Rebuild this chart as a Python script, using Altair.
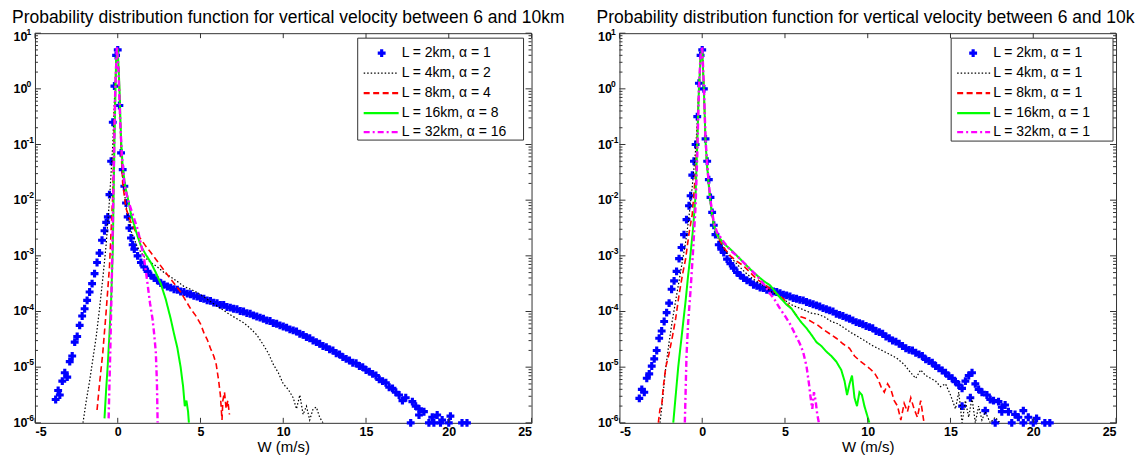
import altair as alt
import pandas as pd

# ---------------- text ----------------
TITLE = "Probability distribution function for vertical velocity between 6 and 10km"
X_TITLE = "W (m/s)"
SERIES = ["L2", "L4", "L8", "L16", "L32"]
LABELS_A = ["L = 2km, α = 1", "L = 4km, α = 2", "L = 8km, α = 4", "L = 16km, α = 8", "L = 32km, α = 16"]
LABELS_B = ["L = 2km, α = 1", "L = 4km, α = 1", "L = 8km, α = 1", "L = 16km, α = 1", "L = 32km, α = 1"]
X_TICKS = [-5, 0, 5, 10, 15, 20, 25]
Y_MAJOR = [1e-6, 1e-5, 1e-4, 1e-3, 1e-2, 1e-1, 1.0, 10.0]
Y_BASE = ["10"] * 8
Y_EXPONENT = ["-6", "-5", "-4", "-3", "-2", "-1", "0", "1"]
Y_MINOR = [k * d for d in Y_MAJOR[:-1] for k in range(2, 10)]

# ---------------- data: (W in m/s, log10 of pdf) ----------------
# left panel
A_L2 = [(-3.75,-5.58),(-3.6,-5.42),(-3.5,-5.5),(-3.35,-5.25),(-3.2,-5.1),(-3.05,-5.18),(-2.9,-4.9),(-2.75,-4.8),
        (-2.6,-4.55),(-2.45,-4.45),(-2.3,-4.25),(-2.15,-4.08),(-2.0,-3.95),(-1.85,-3.8),(-1.7,-3.65),(-1.55,-3.5),
        (-1.4,-3.32),(-1.25,-3.12),(-1.1,-2.95),(-0.95,-2.72),(-0.8,-2.55),(-0.7,-2.4),(-0.6,-2.3),(-0.5,-1.9),
        (-0.4,-1.3),(-0.3,-0.6),(-0.2,0.05),(-0.1,0.6),(0.0,0.7),(0.1,-0.3),(0.2,-1.15),(0.3,-1.45),(0.4,-1.75),
        (0.5,-2.05),(0.6,-2.3),(0.7,-2.5),(0.8,-2.68),(0.9,-2.8),(1.0,-2.88),(1.2,-3.0),(1.4,-3.12),(1.6,-3.2),
        (1.8,-3.28),(2.0,-3.35),(2.2,-3.4),(2.4,-3.44),(2.6,-3.49),(2.8,-3.52),(3.0,-3.55),(3.2,-3.57),(3.4,-3.6),
        (3.6,-3.61),(3.8,-3.64),(4.0,-3.65),(4.2,-3.68),(4.4,-3.69),(4.6,-3.72),(4.8,-3.73),(5.0,-3.76),(5.2,-3.77),
        (5.4,-3.8),(5.6,-3.81),(5.8,-3.84),(6.0,-3.85),(6.2,-3.88),(6.4,-3.88),(6.6,-3.92),(6.8,-3.93),(7.0,-3.95),
        (7.2,-3.96),(7.4,-3.99),(7.6,-4.0),(7.8,-4.03),(8.0,-4.04),(8.2,-4.07),(8.4,-4.09),(8.6,-4.11),(8.8,-4.13),
        (9.0,-4.16),(9.2,-4.17),(9.4,-4.21),(9.6,-4.22),(9.8,-4.25),(10.0,-4.27),(10.2,-4.29),(10.4,-4.32),
        (10.6,-4.34),(10.8,-4.36),(11.0,-4.4),(11.2,-4.42),(11.4,-4.46),(11.6,-4.48),(11.8,-4.52),(12.0,-4.55),
        (12.2,-4.58),(12.4,-4.62),(12.6,-4.64),(12.8,-4.68),(13.0,-4.7),(13.2,-4.75),(13.4,-4.77),(13.6,-4.82),
        (13.8,-4.85),(14.0,-4.88),(14.2,-4.92),(14.4,-4.93),(14.6,-4.98),(14.8,-5.0),(15.0,-5.05),(15.2,-5.08),
        (15.4,-5.12),(15.6,-5.15),(15.8,-5.22),(16.0,-5.25),(16.2,-5.28),(16.4,-5.36),(16.6,-5.38),(16.8,-5.45),
        (17.0,-5.5),(17.2,-5.6),(17.4,-5.55),(17.7,-6.0),(17.8,-5.62),(18.0,-5.7),(18.2,-5.75),(18.2,-5.86),
        (18.5,-5.8),(18.8,-6.0),(19.0,-5.9),(19.1,-6.0),(19.3,-5.86),(19.5,-6.0),(19.6,-5.95),(20.0,-6.0),
        (20.1,-5.88),(20.8,-6.0),(21.1,-6.0)]
A_L4 = [(-2.1,-6.0),(-1.9,-5.6),(-1.7,-5.25),(-1.5,-4.85),(-1.3,-4.45),(-1.1,-3.95),(-0.9,-3.4),(-0.7,-2.8),
        (-0.5,-2.0),(-0.3,-1.0),(-0.2,-0.2),(-0.1,0.5),(0.0,0.72),(0.1,0.0),(0.2,-1.0),(0.3,-1.6),(0.5,-2.1),
        (0.8,-2.55),(1.2,-2.85),(1.6,-3.02),(2.0,-3.12),(2.4,-3.2),(2.8,-3.3),(3.2,-3.38),(3.6,-3.46),(4.0,-3.55),
        (4.4,-3.6),(4.8,-3.66),(5.2,-3.74),(5.6,-3.82),(6.0,-3.9),(6.4,-3.98),(6.8,-4.06),(7.2,-4.13),(7.6,-4.2),
        (8.0,-4.3),(8.4,-4.42),(8.8,-4.6),(9.1,-4.75),(9.4,-4.95),(9.7,-5.1),(10.0,-5.3),(10.3,-5.4),(10.6,-5.55),
        (10.8,-5.75),(11.0,-5.5),(11.2,-5.85),(11.4,-5.7),(11.6,-5.95),(11.8,-5.75),(12.0,-5.72),(12.2,-5.9),
        (12.4,-6.0)]
A_L8 = [(-1.25,-5.77),(-1.1,-5.3),(-0.9,-4.73),(-0.7,-4.0),(-0.5,-3.2),(-0.3,-1.9),(-0.2,-0.5),(-0.1,0.5),
        (0.0,0.72),(0.1,0.0),(0.2,-1.1),(0.3,-1.7),(0.5,-2.15),(0.8,-2.4),(1.1,-2.58),(1.4,-2.7),(1.7,-2.83),
        (2.0,-2.94),(2.3,-3.06),(2.6,-3.18),(2.9,-3.3),(3.2,-3.42),(3.5,-3.53),(3.8,-3.65),(4.1,-3.8),(4.4,-3.95),
        (4.7,-4.07),(5.0,-4.22),(5.2,-4.38),(5.4,-4.5),(5.6,-4.66),(5.8,-4.8),(5.95,-4.95),(6.1,-5.25),(6.2,-5.5),
        (6.3,-5.95),(6.35,-5.6),(6.45,-5.45),(6.55,-5.75),(6.65,-5.6),(6.75,-5.85)]
A_L16 = [(-0.8,-5.92),(-0.7,-5.4),(-0.6,-4.95),(-0.5,-4.4),(-0.4,-3.8),(-0.3,-2.9),(-0.2,-1.0),(-0.1,0.5),
         (0.0,0.72),(0.1,0.05),(0.2,-0.9),(0.3,-1.4),(0.45,-1.75),(0.6,-1.95),(0.8,-2.25),(1.0,-2.45),(1.2,-2.65),
         (1.4,-2.82),(1.7,-2.98),(2.0,-3.12),(2.3,-3.3),(2.6,-3.5),(2.9,-3.78),(3.2,-4.13),(3.4,-4.4),(3.6,-4.65),
         (3.8,-5.0),(3.95,-5.35),(4.05,-5.7),(4.15,-5.6),(4.25,-5.8),(4.3,-6.0)]
A_L32 = [(-0.55,-5.92),(-0.5,-5.3),(-0.45,-4.7),(-0.35,-3.3),(-0.25,-1.6),(-0.15,0.0),(-0.05,0.76),(0.05,0.3),
         (0.15,-0.6),(0.25,-1.2),(0.4,-1.72),(0.6,-1.98),(0.8,-2.16),(1.0,-2.34),(1.2,-2.52),(1.4,-2.78),
         (1.6,-3.06),(1.8,-3.5),(1.95,-3.85),(2.1,-4.13),(2.2,-4.4),(2.3,-4.73),(2.37,-5.3),(2.41,-6.0)]

# right panel
B_L2 = [(-3.8,-5.56),(-3.65,-5.4),(-3.5,-5.45),(-3.35,-5.2),(-3.2,-5.12),(-3.05,-4.98),(-2.9,-4.85),(-2.75,-4.7),
        (-2.6,-4.48),(-2.45,-4.35),(-2.3,-4.18),(-2.15,-4.02),(-2.0,-3.85),(-1.85,-3.6),(-1.7,-3.45),(-1.55,-3.28),
        (-1.4,-3.05),(-1.25,-2.85),(-1.1,-2.62),(-0.95,-2.35),(-0.8,-2.1),(-0.7,-1.92),(-0.6,-1.55),(-0.5,-1.3),
        (-0.4,-1.0),(-0.3,-0.5),(-0.2,0.1),(-0.1,0.6),(0.0,0.7),(0.1,0.0),(0.2,-0.9),(0.3,-1.3),(0.4,-1.63),
        (0.5,-1.95),(0.6,-2.22),(0.7,-2.45),(0.8,-2.62),(1.0,-2.8),(1.15,-2.88),(1.3,-2.94),(1.5,-3.06),(1.7,-3.14),
        (1.9,-3.22),(2.1,-3.3),(2.3,-3.35),(2.5,-3.4),(2.7,-3.44),(2.9,-3.47),(3.1,-3.52),(3.3,-3.54),(3.5,-3.57),
        (3.7,-3.58),(3.9,-3.61),(4.1,-3.62),(4.3,-3.64),(4.5,-3.65),(4.7,-3.67),(4.9,-3.7),(5.1,-3.71),(5.3,-3.73),
        (5.5,-3.76),(5.7,-3.77),(5.9,-3.79),(6.1,-3.8),(6.3,-3.83),(6.5,-3.85),(6.7,-3.87),(6.9,-3.89),(7.1,-3.91),
        (7.3,-3.94),(7.5,-3.96),(7.7,-3.98),(7.9,-4.0),(8.1,-4.04),(8.3,-4.06),(8.5,-4.08),(8.7,-4.11),(8.9,-4.13),
        (9.1,-4.16),(9.3,-4.19),(9.5,-4.21),(9.7,-4.23),(9.9,-4.26),(10.1,-4.28),(10.3,-4.3),(10.5,-4.35),
        (10.7,-4.37),(10.9,-4.4),(11.1,-4.45),(11.3,-4.48),(11.5,-4.52),(11.7,-4.54),(11.9,-4.58),(12.1,-4.62),
        (12.3,-4.66),(12.5,-4.69),(12.7,-4.7),(12.9,-4.74),(13.1,-4.77),(13.3,-4.8),(13.5,-4.86),(13.7,-4.89),
        (13.9,-4.92),(14.1,-4.98),(14.3,-5.02),(14.5,-5.06),(14.7,-5.1),(14.9,-5.16),(15.1,-5.2),(15.3,-5.26),
        (15.5,-5.32),(15.7,-5.38),(15.7,-5.7),(15.9,-5.25),(16.1,-5.15),(16.2,-5.55),(16.3,-5.1),(16.5,-5.3),
        (16.7,-5.4),(16.9,-5.45),(17.1,-5.78),(17.2,-5.5),(17.4,-5.58),(17.6,-5.6),(17.7,-6.0),(17.9,-5.62),
        (18.1,-5.72),(18.1,-5.8),(18.3,-5.68),(18.5,-5.8),(18.7,-6.0),(18.9,-5.85),(19.1,-5.9),(19.4,-6.0),
        (19.4,-5.78),(19.7,-5.9),(20.0,-6.0),(20.2,-5.92),(20.7,-6.0),(21.0,-6.0)]
B_L4 = [(-2.55,-6.0),(-2.4,-5.6),(-2.2,-5.0),(-2.0,-4.55),(-1.8,-4.15),(-1.6,-3.8),(-1.4,-3.45),(-1.2,-3.1),
        (-1.0,-2.75),(-0.8,-2.3),(-0.6,-1.75),(-0.4,-1.1),(-0.3,-0.6),(-0.2,0.0),(-0.1,0.55),(0.0,0.72),(0.1,0.0),
        (0.2,-0.95),(0.3,-1.35),(0.4,-1.7),(0.5,-2.0),(0.7,-2.45),(1.0,-2.72),(1.4,-2.92),(1.8,-3.05),(2.2,-3.18),
        (2.6,-3.3),(3.0,-3.4),(3.4,-3.48),(3.8,-3.56),(4.2,-3.65),(4.6,-3.72),(5.0,-3.8),(5.4,-3.88),(5.8,-3.93),
        (6.2,-3.98),(6.6,-4.03),(7.0,-4.05),(7.4,-4.1),(7.8,-4.18),(8.2,-4.22),(8.6,-4.3),(9.0,-4.38),(9.4,-4.45),
        (9.8,-4.52),(10.2,-4.6),(10.6,-4.66),(11.0,-4.72),(11.4,-4.78),(11.8,-4.85),(12.2,-4.95),(12.6,-5.1),
        (12.9,-5.2),(13.2,-5.05),(13.5,-5.15),(13.8,-5.2),(14.1,-5.25),(14.4,-5.35),(14.7,-5.3),(15.0,-5.5),
        (15.3,-5.75),(15.5,-5.45),(15.7,-6.0),(15.9,-5.6),(16.1,-5.9),(16.3,-5.55),(16.5,-6.0),(16.7,-5.7),
        (16.9,-5.95),(17.1,-5.8),(17.4,-6.0),(17.7,-5.9),(18.0,-6.0)]
B_L8 = [(-2.65,-6.0),(-2.55,-5.75),(-2.45,-5.7),(-2.35,-5.35),(-2.2,-5.0),(-2.0,-4.75),(-1.8,-4.45),(-1.6,-4.12),
        (-1.4,-3.7),(-1.2,-3.35),(-1.0,-3.05),(-0.8,-2.6),(-0.6,-2.25),(-0.4,-1.5),(-0.3,-0.8),(-0.2,0.0),
        (-0.1,0.55),(0.0,0.72),(0.1,0.0),(0.2,-0.95),(0.3,-1.4),(0.4,-1.75),(0.5,-2.05),(0.7,-2.45),(0.9,-2.64),
        (1.3,-2.85),(1.7,-3.0),(2.1,-3.1),(2.5,-3.18),(2.9,-3.3),(3.3,-3.42),(3.7,-3.5),(4.1,-3.59),(4.5,-3.68),
        (4.9,-3.77),(5.3,-3.92),(5.7,-4.07),(6.0,-4.1),(6.3,-4.13),(6.7,-4.2),(7.0,-4.25),(7.3,-4.32),(7.7,-4.4),
        (8.1,-4.48),(8.5,-4.58),(8.9,-4.66),(9.2,-4.8),(9.5,-4.88),(9.8,-4.95),(10.1,-5.02),(10.4,-5.1),
        (10.6,-5.2),(10.8,-5.35),(11.0,-5.45),(11.2,-5.3),(11.4,-5.4),(11.6,-5.6),(11.8,-5.7),(12.0,-5.95),
        (12.2,-5.65),(12.4,-5.8),(12.6,-5.55),(12.8,-5.75),(13.0,-5.9),(13.2,-5.6),(13.4,-6.0)]
B_L16 = [(-1.75,-6.0),(-1.6,-5.5),(-1.45,-5.0),(-1.3,-4.6),(-1.15,-4.2),(-1.0,-3.8),(-0.85,-3.35),(-0.7,-2.95),
         (-0.55,-2.5),(-0.4,-1.9),(-0.3,-1.0),(-0.2,0.0),(-0.1,0.55),(0.0,0.72),(0.1,0.0),(0.2,-0.95),(0.3,-1.4),
         (0.4,-1.75),(0.5,-2.05),(0.7,-2.45),(0.9,-2.62),(1.3,-2.78),(1.7,-2.88),(2.1,-3.0),(2.5,-3.12),
         (2.9,-3.24),(3.3,-3.35),(3.7,-3.45),(4.1,-3.53),(4.5,-3.68),(4.8,-3.78),(5.1,-3.88),(5.4,-3.95),
         (5.7,-4.08),(6.0,-4.2),(6.3,-4.3),(6.6,-4.42),(6.9,-4.55),(7.2,-4.62),(7.5,-4.72),(7.8,-4.8),(8.1,-4.9),
         (8.4,-5.05),(8.6,-5.25),(8.75,-5.5),(8.9,-5.3),(9.05,-5.15),(9.2,-5.55),(9.35,-5.7),(9.5,-5.45),
         (9.65,-5.5),(9.8,-5.7),(9.95,-5.85),(10.1,-6.0)]
B_L32 = [(-1.05,-6.0),(-1.0,-5.4),(-0.95,-4.8),(-0.85,-4.2),(-0.7,-3.6),(-0.55,-2.9),(-0.4,-2.1),(-0.3,-1.2),
         (-0.2,0.0),(-0.1,0.6),(0.0,0.76),(0.1,0.05),(0.2,-0.9),(0.3,-1.35),(0.4,-1.7),(0.5,-2.0),(0.7,-2.4),
         (0.9,-2.58),(1.3,-2.75),(1.7,-2.9),(2.1,-3.0),(2.5,-3.12),(2.9,-3.24),(3.3,-3.36),(3.7,-3.5),(4.1,-3.68),
         (4.4,-3.8),(4.7,-3.95),(5.0,-4.08),(5.3,-4.22),(5.6,-4.4),(5.9,-4.58),(6.1,-4.73),(6.3,-4.98),
         (6.45,-5.3),(6.55,-5.55),(6.65,-5.75),(6.75,-5.45),(6.85,-5.6),(6.95,-5.85),(7.05,-6.0)]

# ---------------- styles / layout ----------------
FONT = "Liberation Sans"
W_PLOT, H_PLOT = 497, 390
FRAME = "#333333"
BLUE = "#0000ff"
MARKER_SIZE = 62
LINE_SERIES = SERIES[1:]
LINE_COLORS = ["#000000", "#ff0000", "#00ff00", "#ff00ff"]
LINE_DASH = [[1.5, 2], [6, 3.5], [1, 0], [6, 3, 2, 3]]
LINE_WIDTH = [1.2, 2.4, 2.2, 2.4]
ROWS = [20, 40, 60, 80, 99]
LEG_A = dict(box=(323, 489, 5, 107), sym=(329, 364), cross=347, text=367)
LEG_B = dict(box=(332, 494, 5, 108), sym=(338, 371), cross=354, text=374)
Y_TICK_MAJOR, Y_TICK_MINOR, X_TICK_LEN = 6, 3, 5
TITLE_X, TITLE_Y, TITLE_SIZE = -23, -10, 17.5
YLAB_X, YEXP_X, YEXP_DY = -21.5, -8.5, -5
TOP_LABEL_SHIFT = 4   # the top "10^1" label sits a little below its tick, as in the reference

XS = alt.Scale(domain=[-5, 25], nice=False, zero=False)
YS = alt.Scale(type="log", domain=[1e-6, 10], nice=False)


def frame(pairs, name):
    return pd.DataFrame({"W": [p[0] for p in pairs], "p": [10 ** p[1] for p in pairs], "s": name})


def panel(blue, lines, labels, leg, title_limit=None):
    x_bottom = alt.Axis(values=X_TICKS, title=X_TITLE, labelExpr="'' + datum.value", labelFont=FONT,
                        labelFontWeight="bold", labelFontSize=12.5, labelColor="black", labelPadding=3,
                        ticks=False, domain=False, grid=False, titleFont=FONT,
                        titleFontSize=15, titleFontWeight="normal", titleColor="black", titlePadding=1)

    pts = alt.Chart(frame(blue, SERIES[0])).mark_point(shape="cross", filled=True, size=MARKER_SIZE,
                                                       color=BLUE, opacity=1).encode(
        x=alt.X("W:Q", scale=XS, axis=None),
        y=alt.Y("p:Q", scale=YS, axis=None),
    )
    df = pd.concat([frame(c, n) for c, n in zip(lines, LINE_SERIES)], ignore_index=True)
    ln = alt.Chart(df).mark_line(clip=True).encode(
        x=alt.X("W:Q", scale=XS, axis=x_bottom),
        y=alt.Y("p:Q", scale=YS, axis=None),
        color=alt.Color("s:N", scale=alt.Scale(domain=LINE_SERIES, range=LINE_COLORS), legend=None),
        strokeDash=alt.StrokeDash("s:N", scale=alt.Scale(domain=LINE_SERIES, range=LINE_DASH), legend=None),
        strokeWidth=alt.StrokeWidth("s:N", scale=alt.Scale(domain=LINE_SERIES, range=LINE_WIDTH), legend=None),
        detail="s:N",
    )

    # y tick labels "10" with a raised exponent, placed through the log scale
    ylab = pd.DataFrame({"v": Y_MAJOR, "base": Y_BASE, "exp": Y_EXPONENT})
    ylabels = []
    for flt, shift in (("datum.v < 5", 0), ("datum.v >= 5", TOP_LABEL_SHIFT)):
        ylabels.append(alt.Chart(ylab).transform_filter(flt).mark_text(
            align="left", baseline="middle", font=FONT, fontSize=12.5, fontWeight="bold", color="black",
            dy=shift).encode(y=alt.Y("v:Q", scale=YS, axis=None), x=alt.value(YLAB_X), text="base:N"))
        ylabels.append(alt.Chart(ylab).transform_filter(flt).mark_text(
            align="left", baseline="middle", font=FONT, fontSize=8.5, fontWeight="bold", color="black",
            dy=YEXP_DY + shift).encode(y=alt.Y("v:Q", scale=YS, axis=None), x=alt.value(YEXP_X), text="exp:N"))

    # inward tick marks on all four sides, placed through the scales
    ymaj = pd.DataFrame({"v": Y_MAJOR})
    ymin = pd.DataFrame({"v": Y_MINOR})
    xmaj = pd.DataFrame({"v": X_TICKS})
    tick = dict(color=FRAME, strokeWidth=1)
    ticks = []
    for d, ln_ in ((ymaj, Y_TICK_MAJOR), (ymin, Y_TICK_MINOR)):
        ticks.append(alt.Chart(d).mark_rule(**tick).encode(
            y=alt.Y("v:Q", scale=YS, axis=None), x=alt.value(0), x2=alt.value(ln_)))
        ticks.append(alt.Chart(d).mark_rule(**tick).encode(
            y=alt.Y("v:Q", scale=YS, axis=None), x=alt.value(W_PLOT), x2=alt.value(W_PLOT - ln_)))
    ticks.append(alt.Chart(xmaj).mark_rule(**tick).encode(
        x=alt.X("v:Q", scale=XS, axis=None), y=alt.value(H_PLOT), y2=alt.value(H_PLOT - X_TICK_LEN)))
    ticks.append(alt.Chart(xmaj).mark_rule(**tick).encode(
        x=alt.X("v:Q", scale=XS, axis=None), y=alt.value(0), y2=alt.value(X_TICK_LEN)))

    one = pd.DataFrame({"k": [0]})
    bx1, bx2, by1, by2 = leg["box"]
    layers = [pts, ln] + ylabels + ticks
    layers.append(alt.Chart(one).mark_rect(fill="white", stroke=FRAME, strokeWidth=1).encode(
        x=alt.value(bx1), x2=alt.value(bx2), y=alt.value(by1), y2=alt.value(by2)))
    layers.append(alt.Chart(one).mark_point(shape="cross", filled=True, size=MARKER_SIZE, color=BLUE,
                                            opacity=1).encode(
        x=alt.value(leg["cross"]), y=alt.value(ROWS[0])))
    for i in range(4):
        layers.append(alt.Chart(one).mark_rule(color=LINE_COLORS[i], strokeDash=LINE_DASH[i],
                                               strokeWidth=LINE_WIDTH[i]).encode(
            x=alt.value(leg["sym"][0]), x2=alt.value(leg["sym"][1]), y=alt.value(ROWS[i + 1])))
    for i in range(5):
        layers.append(alt.Chart(one).mark_text(align="left", baseline="middle", font=FONT, fontSize=14,
                                               color="black").encode(
            x=alt.value(leg["text"]), y=alt.value(ROWS[i]), text=alt.value(labels[i])))
    tkw = dict(align="left", baseline="alphabetic", font=FONT, fontSize=TITLE_SIZE, color="black")
    if title_limit:
        tkw.update(limit=title_limit, ellipsis="\u200b")
    layers.append(alt.Chart(one).mark_text(**tkw).encode(
        x=alt.value(TITLE_X), y=alt.value(TITLE_Y), text=alt.value(TITLE)))

    return alt.layer(*layers).resolve_scale(x="independent", y="independent").properties(
        width=W_PLOT, height=H_PLOT)


left = panel(A_L2, [A_L4, A_L8, A_L16, A_L32], LABELS_A, LEG_A)
right = panel(B_L2, [B_L4, B_L8, B_L16, B_L32], LABELS_B, LEG_B, title_limit=541)

chart = alt.hconcat(left, right, spacing=88, bounds="flush").configure_view(
    stroke=FRAME, strokeWidth=1).properties(
    background="white", padding={"left": 3, "top": 0, "right": 0, "bottom": 0})

chart.save("out.html", embed_options={"renderer": "svg", "actions": False})
